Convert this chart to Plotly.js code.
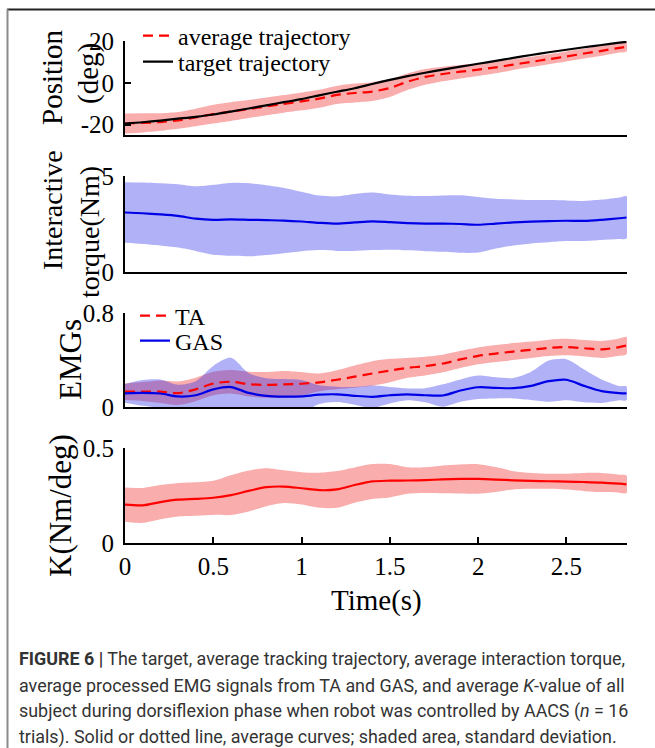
<!DOCTYPE html>
<html>
<head>
<meta charset="utf-8">
<script src="https://cdn.plot.ly/plotly-3.0.1.min.js"></script>
<style>html,body{margin:0;padding:0;background:#fff;}#chart{width:655px;height:748px;}</style>
</head>
<body>
<div id="chart"></div>
<script>
// ---- data ----
const time = [0,0.1,0.2,0.3,0.4,0.5,0.6,0.7,0.8,0.9,1.0,1.1,1.2,1.3,1.4,1.5,1.6,1.7,1.8,1.9,2.0,2.1,2.2,2.3,2.4,2.5,2.6,2.7,2.8,2.84];

const posTarget = [-19.5,-18.9,-18.1,-17.2,-16.3,-15.2,-13.8,-12.3,-10.8,-9.3,-7.8,-6.0,-4.3,-2.6,-0.6,1.4,3.2,4.8,6.3,7.7,9.1,10.5,11.9,13.3,14.6,15.8,17.0,18.1,19.2,19.6];
const posAvg    = [-19.5,-19.2,-18.8,-18.0,-16.6,-15.0,-13.8,-12.6,-11.3,-10.1,-8.9,-7.6,-5.8,-4.9,-4.2,-2.5,0.5,2.8,4.2,5.3,6.3,7.4,8.7,10.0,11.3,12.6,14.0,15.3,16.7,17.2];
const posSd     = [4.8,4.6,4.2,4.0,4.2,4.5,4.5,4.3,4.2,4.2,4.3,4.3,4.3,4.5,4.5,4.3,4.0,3.8,3.5,3.2,3.0,2.8,2.6,2.5,2.4,2.4,2.4,2.4,2.2,2.2];

const torqueMean = [3.10,3.06,3.00,2.92,2.78,2.72,2.74,2.72,2.70,2.68,2.63,2.56,2.52,2.58,2.64,2.60,2.55,2.52,2.52,2.50,2.46,2.52,2.58,2.62,2.65,2.67,2.66,2.72,2.80,2.84];
const torqueSd   = [1.58,1.60,1.62,1.65,1.68,1.82,1.90,1.90,1.82,1.70,1.55,1.42,1.42,1.48,1.50,1.44,1.42,1.44,1.47,1.50,1.45,1.30,1.20,1.13,1.10,1.06,1.04,1.05,1.08,1.10];

const taMean  = [0.130,0.132,0.130,0.118,0.150,0.200,0.215,0.195,0.188,0.192,0.198,0.210,0.232,0.258,0.285,0.310,0.333,0.348,0.370,0.405,0.435,0.455,0.472,0.487,0.503,0.510,0.500,0.490,0.510,0.523];
const taSd    = [0.070,0.080,0.095,0.100,0.100,0.100,0.100,0.105,0.110,0.115,0.100,0.075,0.080,0.095,0.105,0.100,0.085,0.080,0.075,0.073,0.072,0.072,0.072,0.070,0.070,0.070,0.070,0.072,0.073,0.073];
const gasMean = [0.116,0.120,0.115,0.090,0.100,0.150,0.170,0.120,0.095,0.088,0.090,0.105,0.108,0.095,0.087,0.100,0.108,0.100,0.098,0.140,0.168,0.163,0.160,0.180,0.220,0.232,0.180,0.135,0.118,0.116];
const gasSd   = [0.080,0.110,0.120,0.100,0.120,0.200,0.250,0.170,0.150,0.150,0.140,0.080,0.065,0.075,0.095,0.070,0.050,0.060,0.095,0.095,0.100,0.090,0.087,0.120,0.175,0.175,0.140,0.100,0.060,0.058];

const kMean = [0.202,0.198,0.215,0.228,0.232,0.238,0.252,0.274,0.294,0.297,0.288,0.278,0.282,0.305,0.324,0.328,0.329,0.331,0.335,0.337,0.337,0.334,0.330,0.327,0.325,0.323,0.321,0.318,0.312,0.309];
const kSd   = [0.090,0.092,0.090,0.088,0.088,0.090,0.105,0.108,0.100,0.086,0.085,0.092,0.097,0.093,0.092,0.088,0.070,0.068,0.073,0.076,0.078,0.066,0.048,0.042,0.040,0.042,0.048,0.050,0.047,0.046];

const xTicks = [0,0.5,1,1.5,2,2.5];
const xTickText = ['0','0.5','1','1.5','2','2.5'];
const posTicks = [-20,0,20];
const torqueTicks = [0,5];
const emgTicks = [0,0.8];
const kTicks = [0,0.5];

// ---- helpers ----
const SERIF = 'Liberation Serif, Times New Roman, serif';
const SANS = 'Roboto, Arial, sans-serif';
const L = 125, T = 41, W = 502, B = 543; // plot area in px
const px = v => (v - L) / W;
const py = v => (B - v) / W;

function band(xs, mean, sd, color, xa, ya) {
  const up = mean.map((m, i) => m + sd[i]);
  const lo = mean.map((m, i) => m - sd[i]);
  return {
    x: xs.concat(xs.slice().reverse()),
    y: up.concat(lo.slice().reverse()),
    xaxis: xa, yaxis: ya, type: 'scatter', mode: 'lines',
    fill: 'toself', fillcolor: color,
    line: {width: 0, shape: 'spline', smoothing: 0.8},
    showlegend: false, hoverinfo: 'skip'
  };
}
function curve(xs, ys, color, dash, xa, ya, name, legend) {
  return {
    x: xs, y: ys, xaxis: xa, yaxis: ya, type: 'scatter', mode: 'lines',
    line: {color: color, width: 2.2, dash: dash, shape: 'spline', smoothing: 0.8},
    name: name || '', showlegend: !!name, legend: legend || 'legend'
  };
}

const RED_FILL = 'rgba(240,40,40,0.38)';
const BLUE_FILL = 'rgba(40,40,235,0.36)';
const RED = '#ff0000', BLUE = '#0000e6';
const DASH = '10px,6px';

const data = [
  band(time, posAvg, posSd, RED_FILL, 'x', 'y'),
  curve(time, posAvg, RED, DASH, 'x', 'y', 'average trajectory', 'legend'),
  curve(time, posTarget, '#000000', 'solid', 'x', 'y', 'target trajectory', 'legend2'),
  band(time, torqueMean, torqueSd, BLUE_FILL, 'x2', 'y2'),
  curve(time, torqueMean, BLUE, 'solid', 'x2', 'y2'),
  band(time, taMean, taSd, RED_FILL, 'x3', 'y3'),
  band(time, gasMean, gasSd, BLUE_FILL, 'x3', 'y3'),
  curve(time, taMean, RED, DASH, 'x3', 'y3', 'TA', 'legend3'),
  curve(time, gasMean, BLUE, 'solid', 'x3', 'y3', 'GAS', 'legend4'),
  band(time, kMean, kSd, RED_FILL, 'x4', 'y4'),
  curve(time, kMean, RED, 'solid', 'x4', 'y4')
];

const xRange = [0, 2.843];
function xa(anchor, last) {
  const o = {
    domain: [0, 1], anchor: anchor, range: xRange, showline: true, linecolor: '#000', linewidth: 2,
    showgrid: false, zeroline: false, fixedrange: true
  };
  if (last) {
    Object.assign(o, {ticks: 'inside', ticklen: 6, tickwidth: 2, tickcolor: '#000',
      tickvals: xTicks, ticktext: xTickText, ticklabelstandoff: 0,
      tickfont: {family: SERIF, size: 25, color: '#000'}});
  } else {
    Object.assign(o, {ticks: '', showticklabels: false, matches: 'x4'});
  }
  return o;
}
function ya(anchor, dom, range, ticks, text) {
  return {
    domain: dom, anchor: anchor, range: range, showline: true, linecolor: '#000', linewidth: 2,
    ticks: 'inside', ticklen: 6, tickwidth: 2, tickcolor: '#000', tickvals: ticks, ticktext: text,
    ticklabelstandoff: 4,
    tickfont: {family: SERIF, size: 25, color: '#000'}, showgrid: false, zeroline: false, fixedrange: true
  };
}

function legendAt(xp, yp) {
  return {x: px(xp), y: py(yp), xanchor: 'left', yanchor: 'middle', bgcolor: 'rgba(0,0,0,0)',
    borderwidth: 0, font: {family: SERIF, size: 24, color: '#000'}, itemwidth: 30, tracegroupgap: 0};
}

const ann = [];
function ytitle(text, xp, ypc, size) {
  ann.push({text: text, xref: 'paper', yref: 'paper', x: px(xp), y: py(ypc), textangle: -90,
    xanchor: 'center', yanchor: 'middle', showarrow: false,
    font: {family: SERIF, size: size, color: '#000'}});
}
ytitle('Position', 52, 77, 29);
ytitle('(deg)', 88, 74, 29);
ytitle('Interactive', 52, 210, 28);
ytitle('torque(Nm)', 89, 232, 28);
ytitle('EMGs', 70, 360, 31);
ytitle('K(Nm/deg)', 60, 506, 31);
ann.push({text: 'Time(s)', xref: 'paper', yref: 'paper', x: px(376), y: py(600), xanchor: 'center', yanchor: 'middle',
  showarrow: false, font: {family: SERIF, size: 29, color: '#000'}});

const caption = [
  '<b>FIGURE 6 |</b> The target, average tracking trajectory, average interaction torque,',
  'average processed EMG signals from TA and GAS, and average <i>K</i>-value of all',
  'subject during dorsiflexion phase when robot was controlled by AACS (<i>n</i> = 16',
  'trials). Solid or dotted line, average curves; shaded area, standard deviation.'
];
const capY = [658, 685, 711, 737];
caption.forEach((c, i) => ann.push({text: c, xref: 'paper', yref: 'paper', x: px(17), y: py(capY[i]),
  xanchor: 'left', yanchor: 'middle', showarrow: false, align: 'left',
  font: {family: SANS, size: 17.9, color: '#333'}}));

const layout = {
  width: 655, height: 748,
  margin: {l: L, r: 655 - L - W, t: T, b: 748 - B, pad: 0},
  paper_bgcolor: '#fff', plot_bgcolor: 'rgba(0,0,0,0)',
  showlegend: true,
  legend: legendAt(138, 36), legend2: legendAt(138, 62),
  legend3: legendAt(135, 316), legend4: legendAt(135, 341),
  xaxis: xa('y', false), xaxis2: xa('y2', false), xaxis3: xa('y3', false), xaxis4: xa('y4', true),
  yaxis: ya('x', [py(135), py(41)], [-25, 20], posTicks, ['-20', '0', '20']),
  yaxis2: ya('x2', [py(272), py(176)], [0, 5], torqueTicks, ['0', '5']),
  yaxis3: ya('x3', [py(407), py(313)], [0, 0.8], emgTicks, ['0', '0.8']),
  yaxis4: ya('x4', [0, py(448)], [0, 0.5], kTicks, ['0', '0.5']),
  annotations: ann,
  shapes: [
    {type: 'line', xref: 'paper', yref: 'paper', x0: px(7), x1: px(655), y0: py(9.5), y1: py(9.5), line: {color: '#222', width: 2}},
    {type: 'line', xref: 'paper', yref: 'paper', x0: px(7.5), x1: px(7.5), y0: py(9), y1: py(748), line: {color: '#8a8a8a', width: 2}}
  ]
};

Plotly.newPlot('chart', data, layout, {displayModeBar: false, staticPlot: true});
</script>
</body>
</html>
